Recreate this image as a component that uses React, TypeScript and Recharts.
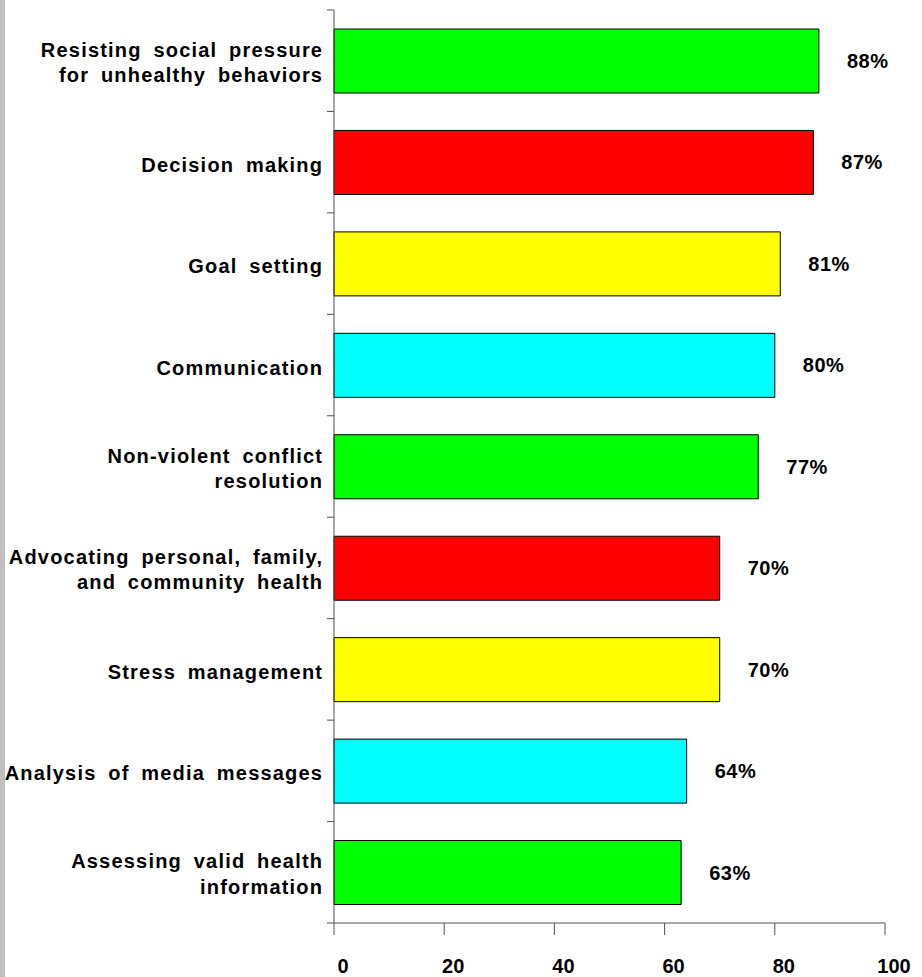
import React from "react";
import { BarChart, Bar, XAxis, YAxis, Cell, LabelList } from "recharts";

const categoryLines: string[][] = [
  ["Resisting social pressure", "for unhealthy behaviors"],
  ["Decision making"],
  ["Goal setting"],
  ["Communication"],
  ["Non-violent conflict", "resolution"],
  ["Advocating personal, family,", "and community health"],
  ["Stress management"],
  ["Analysis of media messages"],
  ["Assessing valid health", "information"],
];
const categories = categoryLines.map((l) => l.join(" "));
const percentValues = [88, 87, 81, 80, 77, 70, 70, 64, 63];
const barColors = [
  "#00ff00",
  "#ff0000",
  "#ffff00",
  "#00ffff",
  "#00ff00",
  "#ff0000",
  "#ffff00",
  "#00ffff",
  "#00ff00",
];
const xTicks = [0, 20, 40, 60, 80, 100];

const data = categories.map((name, i) => ({ name, value: percentValues[i] }));

const W = 922;
const H = 977;
const MARGIN = { top: 10, right: 37, left: 0, bottom: 0 };
const Y_AXIS_W = 334;
const X_AXIS_H = 54;
const PLOT_H = H - MARGIN.top - MARGIN.bottom - X_AXIS_H;
const BAND = PLOT_H / categories.length;
const AXIS_COLOR = "#505050";
const FONT = "'Liberation Sans', Arial, Helvetica, sans-serif";

const YTick = (props: any) => {
  const { y, payload } = props;
  const idx = categories.indexOf(payload.value);
  const lines = categoryLines[idx] || [String(payload.value)];
  const ax = MARGIN.left + Y_AXIS_W;
  const textX = ax - 10.8;
  const base0 = lines.length === 1 ? y + 9.5 : y - 4;
  return (
    <g>
      <line x1={ax - 7} x2={ax} y1={y - BAND / 2} y2={y - BAND / 2} stroke={AXIS_COLOR} strokeWidth={1} />
      {idx === categories.length - 1 && (
        <line x1={ax - 7} x2={ax} y1={y + BAND / 2} y2={y + BAND / 2} stroke={AXIS_COLOR} strokeWidth={1} />
      )}
      <text
        x={textX}
        textAnchor="end"
        fontFamily={FONT}
        fontSize={20}
        fontWeight="bold"
        fill="#000"
        style={{ letterSpacing: "1.2px", wordSpacing: "5px" }}
      >
        {lines.map((l, k) => (
          <tspan key={k} x={textX} y={base0 + k * 25.5}>
            {l}
          </tspan>
        ))}
      </text>
    </g>
  );
};

const XTick = (props: any) => {
  const { x, y, payload } = props;
  return (
    <text
      x={x + 9}
      y={y + 38}
      textAnchor="middle"
      fontFamily={FONT}
      fontSize={20}
      fontWeight="bold"
      fill="#000"
    >
      {payload.value}
    </text>
  );
};

const ValueLabel = (props: any) => {
  const x = Number(props.x);
  const y = Number(props.y);
  const width = Number(props.width);
  const height = Number(props.height);
  return (
    <text
      x={x + width + 28}
      y={y + height / 2 + 7}
      textAnchor="start"
      fontFamily={FONT}
      fontSize={20}
      fontWeight="bold"
      fill="#000"
      style={{ letterSpacing: "0.5px" }}
    >
      {props.value}%
    </text>
  );
};

export default function App() {
  return (
    <div style={{ position: "absolute", left: 0, top: 0, width: W, height: H, background: "#fff" }}>
      <div style={{ position: "absolute", left: 0, top: 0, width: 5, height: H, background: "#c0c0c0" }} />
      <div style={{ position: "absolute", left: 0, top: 0 }}>
        <BarChart width={W} height={H} layout="vertical" data={data} margin={MARGIN}>
          <XAxis
            type="number"
            domain={[0, 100]}
            ticks={xTicks}
            interval={0}
            tickSize={12}
            tickMargin={0}
            height={X_AXIS_H}
            axisLine={{ stroke: AXIS_COLOR }}
            tickLine={{ stroke: AXIS_COLOR }}
            tick={XTick}
          />
          <YAxis
            type="category"
            dataKey="name"
            width={Y_AXIS_W}
            interval={0}
            tickLine={false}
            axisLine={{ stroke: AXIS_COLOR }}
            tick={YTick}
          />
          <Bar dataKey="value" barSize={64} stroke="#000" strokeWidth={1} isAnimationActive={false}>
            {data.map((d, i) => (
              <Cell key={d.name} fill={barColors[i]} />
            ))}
            <LabelList dataKey="value" content={ValueLabel} />
          </Bar>
        </BarChart>
      </div>
    </div>
  );
}
